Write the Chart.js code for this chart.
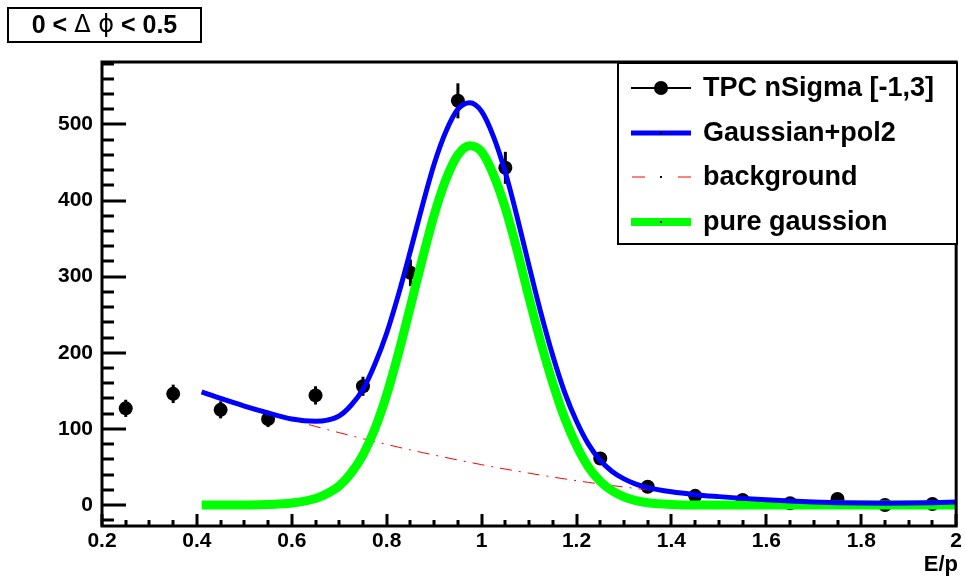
<!DOCTYPE html>
<html>
<head>
<meta charset="utf-8">
<script src="https://cdn.jsdelivr.net/npm/chart.js@4.4.1/dist/chart.umd.min.js"></script>
<style>
  html, body { margin: 0; padding: 0; background: #fff; }
</style>
</head>
<body>
<canvas id="chart" width="965" height="579"></canvas>
<script>
// data points (TPC nSigma [-1,3])
const pointX = [0.25, 0.35, 0.45, 0.55, 0.65, 0.75, 0.85, 0.95, 1.05, 1.25, 1.35, 1.45, 1.55, 1.65, 1.75, 1.85, 1.95];
const pointY = [127, 146, 125, 113, 144, 156, 305, 531, 443, 61, 24, 12, 6.6, 2.2, 7.9, 0, 1.3];
const pointErr = [11.3, 12.1, 11.2, 10.6, 12, 12.5, 17.5, 23, 21, 7.8, 4.9, 3.5, 2.6, 1.5, 2.8, 0, 1.1];

// fit curves
const fitX = [0.41, 0.45, 0.5, 0.55, 0.6, 0.65, 0.675, 0.7, 0.725, 0.75, 0.775, 0.8, 0.825, 0.85, 0.875, 0.9, 0.925, 0.95, 0.975, 1.0,
  1.025, 1.05, 1.075, 1.1, 1.125, 1.15, 1.175, 1.2, 1.225, 1.25, 1.275, 1.3, 1.325, 1.35, 1.4, 1.45, 1.5, 1.55, 1.6, 1.65,
  1.7, 1.75, 1.8, 1.85, 1.9, 1.95, 2.0];
const fitTotal = [148.5, 140, 130, 121, 113, 110, 111.5, 117, 131, 152, 185, 226, 277, 334, 393, 448, 491, 520, 528.5, 517,
  484, 437, 378, 314, 252, 196, 148, 110, 80, 58.6, 44.1, 34.3, 27.5, 22.9, 17.3, 13.6, 11.0, 8.7, 6.8, 5.2,
  4.0, 3.1, 2.6, 2.4, 2.6, 3.1, 4.0];
const fitBg = [147.6, 139.6, 130.0, 120.7, 111.8, 103.2, 99.0, 95.0, 91.0, 87.1, 83.3, 79.6, 75.9, 72.4, 68.9, 65.6, 62.3, 59.1, 56.0, 53.0,
  50.0, 47.2, 44.4, 41.8, 39.2, 36.7, 34.3, 32.0, 29.7, 27.6, 25.5, 23.6, 21.7, 19.9, 16.6, 13.6, 11.0, 8.7, 6.8, 5.2,
  4.0, 3.1, 2.6, 2.4, 2.6, 3.1, 4.0];
const fitGauss = [0, 0, 0.1, 0.6, 2.5, 8.5, 15, 25, 42, 66, 100, 145, 200, 261, 323, 381, 428, 460, 472, 464,
  434, 390, 334, 272, 213, 160, 114, 78, 50, 31, 18.6, 10.7, 5.8, 3.0, 0.7, 0, 0, 0, 0, 0,
  0, 0, 0, 0, 0, 0, 0];

const xTicks = [0.2, 0.4, 0.6, 0.8, 1, 1.2, 1.4, 1.6, 1.8, 2];
const yTicks = [0, 100, 200, 300, 400, 500];

const legendLabels = ['TPC nSigma [-1,3]', 'Gaussian+pol2', 'background', 'pure gaussion'];
const titleText = ['0 < ', '\u0394 \u03d5', ' < 0.5'];

const FONT = '"Liberation Sans", Arial, Helvetica, sans-serif';

const toXY = (xs, ys) => xs.map((x, i) => ({ x: x, y: ys[i] }));

// error bars under the markers
const errorBars = {
  id: 'errorBars',
  beforeDatasetsDraw(chart) {
    const { ctx, scales: { x, y } } = chart;
    ctx.save();
    ctx.strokeStyle = '#000';
    ctx.lineWidth = 3;
    pointX.forEach((v, i) => {
      const px = x.getPixelForValue(v);
      ctx.beginPath();
      ctx.moveTo(px, y.getPixelForValue(pointY[i] - pointErr[i]));
      ctx.lineTo(px, y.getPixelForValue(pointY[i] + pointErr[i]));
      ctx.stroke();
    });
    ctx.restore();
  }
};

// ROOT style frame, inner ticks, title box, legend
const rootDeco = {
  id: 'rootDeco',
  afterDraw(chart) {
    const { ctx, chartArea: a, scales: { x, y } } = chart;
    ctx.save();
    ctx.strokeStyle = '#000';
    ctx.fillStyle = '#000';

    // ticks
    ctx.lineWidth = 3;
    ctx.beginPath();
    for (let v = 0.2; v <= 2.0001; v += 0.05) {
      const px = Math.round(x.getPixelForValue(v));
      const major = Math.abs(v * 5 - Math.round(v * 5)) < 1e-6;
      ctx.moveTo(px, a.bottom);
      ctx.lineTo(px, a.bottom - (major ? 12 : 6));
    }
    for (let v = -20; v <= 580; v += 20) {
      const py = Math.round(y.getPixelForValue(v));
      const major = v % 100 === 0;
      ctx.moveTo(a.left, py);
      ctx.lineTo(a.left + (major ? 24 : 12), py);
    }
    ctx.stroke();

    // frame
    ctx.lineWidth = 3;
    ctx.strokeRect(a.left, a.top, a.right - a.left, a.bottom - a.top);

    // axis title
    ctx.font = 'bold 22px ' + FONT;
    ctx.textAlign = 'right';
    ctx.textBaseline = 'alphabetic';
    ctx.fillText('E/p', 958, 571);

    // title box
    ctx.lineWidth = 2;
    ctx.fillStyle = '#fff';
    ctx.fillRect(8, 8, 193, 34);
    ctx.strokeRect(8, 8, 193, 34);
    ctx.fillStyle = '#000';
    ctx.textAlign = 'left';
    ctx.textBaseline = 'middle';
    const fonts = ['bold 25px ' + FONT, '24px "DejaVu Sans", ' + FONT, 'bold 25px ' + FONT];
    let tw = 0;
    titleText.forEach((t, i) => { ctx.font = fonts[i]; tw += ctx.measureText(t).width; });
    let tx = 8 + (193 - tw) / 2;
    titleText.forEach((t, i) => {
      ctx.font = fonts[i];
      ctx.fillText(t, tx, 26);
      tx += ctx.measureText(t).width;
    });

    // legend
    ctx.fillStyle = '#fff';
    ctx.fillRect(618, 63, 339, 181);
    ctx.lineWidth = 2;
    ctx.strokeRect(618, 63, 339, 181);
    const rows = [88, 133, 177, 222];
    const x0 = 631, x1 = 691, xm = 661;

    ctx.strokeStyle = '#000';
    ctx.lineWidth = 2;
    ctx.beginPath(); ctx.moveTo(x0, rows[0]); ctx.lineTo(x1, rows[0]); ctx.stroke();
    ctx.fillStyle = '#000';
    ctx.beginPath(); ctx.arc(xm, rows[0], 7, 0, Math.PI * 2); ctx.fill();

    ctx.strokeStyle = '#0000ff';
    ctx.lineWidth = 5;
    ctx.beginPath(); ctx.moveTo(x0, rows[1]); ctx.lineTo(x1, rows[1]); ctx.stroke();

    ctx.strokeStyle = '#ff0000';
    ctx.lineWidth = 1;
    ctx.setLineDash([13, 33]);
    ctx.beginPath(); ctx.moveTo(x0 + 1, rows[2]); ctx.lineTo(x1, rows[2]); ctx.stroke();
    ctx.setLineDash([]);

    ctx.strokeStyle = '#00ff00';
    ctx.lineWidth = 8;
    ctx.beginPath(); ctx.moveTo(x0, rows[3]); ctx.lineTo(x1, rows[3]); ctx.stroke();

    ctx.fillStyle = '#000';
    [1, 2, 3].forEach(r => ctx.fillRect(xm - 1, rows[r] - 1, 2, 2));

    ctx.font = 'bold 27px ' + FONT;
    ctx.textAlign = 'left';
    ctx.textBaseline = 'middle';
    legendLabels.forEach((t, i) => ctx.fillText(t, 703, rows[i] + 1));

    ctx.restore();
  }
};

const tickFont = { family: FONT, size: 21, weight: 'bold' };

new Chart(document.getElementById('chart'), {
  type: 'line',
  data: {
    datasets: [
      {
        label: 'Gaussian+pol2',
        data: toXY(fitX, fitTotal),
        borderColor: '#0000ff',
        borderWidth: 5,
        pointRadius: 0,
        cubicInterpolationMode: 'monotone',
        fill: false
      },
      {
        label: 'pure gaussion',
        data: toXY(fitX, fitGauss),
        borderColor: '#00ff00',
        borderWidth: 9,
        pointRadius: 0,
        cubicInterpolationMode: 'monotone',
        fill: false
      },
      {
        label: 'background',
        data: toXY(fitX, fitBg),
        borderColor: '#ff0000',
        borderWidth: 1,
        borderDash: [12, 7, 2, 7],
        pointRadius: 0,
        cubicInterpolationMode: 'monotone',
        fill: false
      },
      {
        label: 'TPC nSigma [-1,3]',
        data: toXY(pointX, pointY),
        showLine: false,
        pointRadius: 7,
        pointBackgroundColor: '#000',
        pointBorderColor: '#000',
        pointBorderWidth: 0
      }
    ]
  },
  options: {
    responsive: false,
    animation: false,
    devicePixelRatio: 1,
    layout: { padding: { top: 62, right: 3, left: 0, bottom: 0 } },
    plugins: {
      legend: { display: false },
      tooltip: { enabled: false }
    },
    scales: {
      x: {
        type: 'linear',
        min: 0.2,
        max: 2,
        grid: { display: false, drawTicks: false },
        border: { display: false },
        afterBuildTicks: s => { s.ticks = xTicks.map(v => ({ value: v })); },
        afterFit: s => { s.height = 53; },
        ticks: {
          font: tickFont,
          color: '#000',
          padding: 3,
          maxRotation: 0,
          autoSkip: false,
          callback: v => String(v)
        }
      },
      y: {
        type: 'linear',
        min: -27.6,
        max: 582,
        grid: { display: false, drawTicks: false },
        border: { display: false },
        afterBuildTicks: s => { s.ticks = yTicks.map(v => ({ value: v })); },
        afterFit: s => { s.width = 102; },
        ticks: {
          font: tickFont,
          color: '#000',
          padding: 9,
          callback: v => String(v)
        }
      }
    }
  },
  plugins: [errorBars, rootDeco]
});
</script>
</body>
</html>
